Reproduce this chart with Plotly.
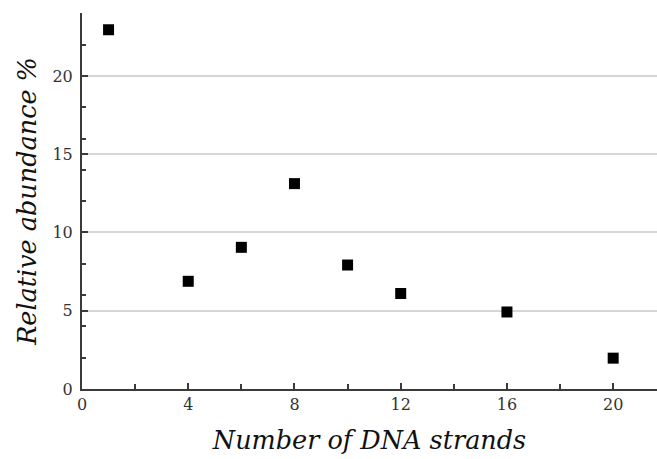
import plotly.graph_objects as go

# Relative abundance of assemblies by number of DNA strands
strands = [1, 4, 6, 8, 10, 12, 16, 20]
abundance = [22.95, 6.88, 9.05, 13.12, 7.92, 6.1, 4.92, 1.97]

x_ticks = [0, 4, 8, 12, 16, 20]
y_ticks = [0, 5, 10, 15, 20]

FONT = "DejaVu Serif"
AXIS_COLOR = "#3a3a3a"

fig = go.Figure(
    go.Scatter(
        x=strands,
        y=abundance,
        mode="markers",
        marker=dict(symbol="square", size=11, color="black"),
        showlegend=False,
    )
)

fig.update_layout(
    width=657,
    height=459,
    margin=dict(l=82, r=0, t=13, b=70),
    paper_bgcolor="white",
    plot_bgcolor="white",
    font=dict(family=FONT, color="#333333"),
)

fig.update_xaxes(
    range=[0, 21.65],
    tickvals=x_ticks,
    ticktext=[str(v) for v in x_ticks],
    ticks="inside",
    ticklen=6,
    tickwidth=1.5,
    tickcolor=AXIS_COLOR,
    minor=dict(dtick=2, tick0=0, ticks="inside", ticklen=5, tickwidth=1.5,
               tickcolor=AXIS_COLOR, showgrid=False),
    showline=True,
    linecolor=AXIS_COLOR,
    linewidth=2,
    showgrid=False,
    zeroline=False,
    tickfont=dict(family=FONT, size=16, color="#333333"),
    title=dict(text="<i>Number of DNA strands</i>",
               font=dict(family=FONT, size=25.5, color="#111111"),
               standoff=18),
)

fig.update_yaxes(
    range=[0, 24.02],
    tickvals=y_ticks,
    ticktext=[str(v) for v in y_ticks],
    ticks="inside",
    ticklen=6,
    tickwidth=1.5,
    tickcolor=AXIS_COLOR,
    minor=dict(dtick=2, tick0=0, ticks="inside", ticklen=4, tickwidth=1.5,
               tickcolor=AXIS_COLOR, showgrid=False),
    showline=True,
    linecolor=AXIS_COLOR,
    linewidth=2,
    showgrid=True,
    gridcolor="#d6d6d6",
    gridwidth=1.5,
    zeroline=False,
    tickfont=dict(family=FONT, size=16, color="#333333"),
    ticklabelstandoff=4,
    title=dict(text="<i>Relative abundance %</i>",
               font=dict(family=FONT, size=25.5, color="#111111"),
               standoff=9),
)

fig.write_html("out.html")
